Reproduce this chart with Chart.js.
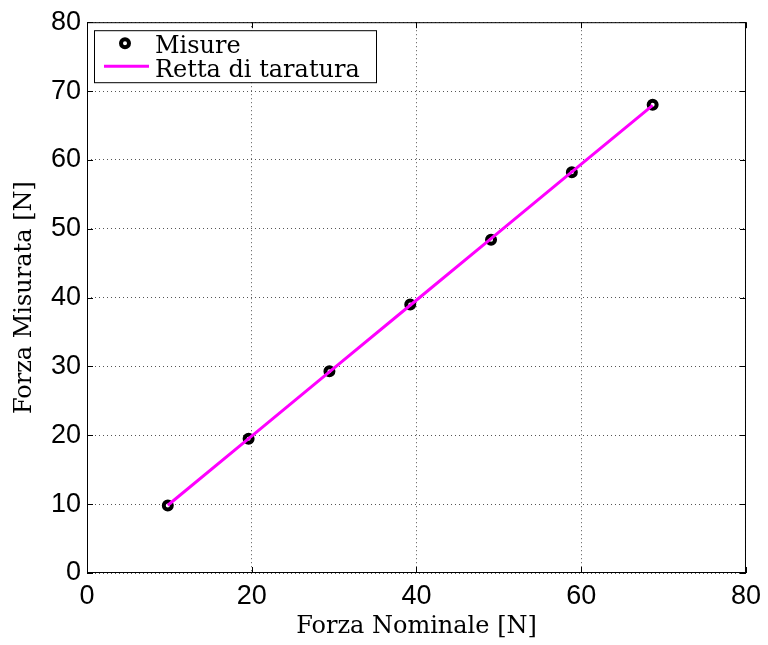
<!DOCTYPE html>
<html>
<head>
<meta charset="utf-8">
<script src="https://cdn.jsdelivr.net/npm/chart.js@4/dist/chart.umd.min.js"></script>
<style>
  html, body { margin: 0; padding: 0; background: #fff; }
  canvas { display: block; }
</style>
</head>
<body>
<canvas id="chart" width="768" height="645"></canvas>
<script>
// dati
const forzaNominale = [9.81, 19.62, 29.43, 39.24, 49.05, 58.86, 68.67];
const forzaMisurata = [9.8, 19.5, 29.3, 39.0, 48.4, 58.2, 68.0];
const rettaTaratura = [9.84, 19.52, 29.2, 38.89, 48.57, 58.25, 67.93];
const legendLabels = ['Misure', 'Retta di taratura'];
const xTitle = 'Forza Nominale [N]';
const yTitle = 'Forza Misurata [N]';

const serif = '"DejaVu Serif", serif';
const sans = '"Liberation Sans", Arial, sans-serif';

function toPoints(xs, ys) {
    return xs.map((x, i) => ({ x: x, y: ys[i] }));
}

// cornice e tacche interne stile MATLAB, legenda dentro il grafico
const matlabBox = {
    id: 'matlabBox',
    afterDraw(chart) {
        const ctx = chart.ctx;
        const a = chart.chartArea;
        const xs = chart.scales.x, ys = chart.scales.y;
        const tl = 6;
        ctx.save();
        ctx.strokeStyle = '#000';
        ctx.lineWidth = 1;
        ctx.strokeRect(a.left + 0.5, a.top + 0.5, a.right - a.left - 1, a.bottom - a.top - 1);
        ctx.beginPath();
        xs.ticks.forEach(t => {
            const px = Math.round(xs.getPixelForValue(t.value)) + 0.5;
            ctx.moveTo(px, a.bottom); ctx.lineTo(px, a.bottom - tl);
            ctx.moveTo(px, a.top); ctx.lineTo(px, a.top + tl);
        });
        ys.ticks.forEach(t => {
            const py = Math.round(ys.getPixelForValue(t.value)) + 0.5;
            ctx.moveTo(a.left, py); ctx.lineTo(a.left + tl, py);
            ctx.moveTo(a.right, py); ctx.lineTo(a.right - tl, py);
        });
        ctx.stroke();

        // legenda
        const bx = a.left + 7, by = a.top + 8, bw = 282, bh = 52;
        ctx.fillStyle = '#fff';
        ctx.fillRect(bx, by, bw, bh);
        ctx.strokeRect(bx + 0.5, by + 0.5, bw, bh);
        const ds = chart.data.datasets;
        ctx.beginPath();
        ctx.arc(bx + 31, by + 13, ds[0].pointRadius, 0, Math.PI * 2);
        ctx.lineWidth = ds[0].borderWidth;
        ctx.strokeStyle = ds[0].borderColor;
        ctx.stroke();
        ctx.beginPath();
        ctx.moveTo(bx + 10, by + 36);
        ctx.lineTo(bx + 55, by + 36);
        ctx.lineWidth = ds[1].borderWidth;
        ctx.strokeStyle = ds[1].borderColor;
        ctx.stroke();
        ctx.fillStyle = '#000';
        ctx.font = '24px ' + serif;
        ctx.textBaseline = 'alphabetic';
        ctx.fillText(ds[0].label, bx + 61, by + 23);
        ctx.fillText(ds[1].label, bx + 61, by + 47);
        ctx.restore();
    }
};

new Chart(document.getElementById('chart'), {
    type: 'scatter',
    data: {
        datasets: [{
            label: legendLabels[0],
            data: toPoints(forzaNominale, forzaMisurata),
            borderColor: '#000',
            backgroundColor: '#fff',
            borderWidth: 4,
            pointRadius: 4,
            order: 2
        }, {
            label: legendLabels[1],
            data: toPoints(forzaNominale, rettaTaratura),
            showLine: true,
            borderColor: '#ff00ff',
            borderWidth: 3,
            pointRadius: 0,
            order: 1
        }]
    },
    options: {
        responsive: false,
        animation: false,
        layout: { padding: { left: 0, right: 22, top: 20, bottom: 0 } },
        plugins: {
            legend: { display: false },
            tooltip: { enabled: false }
        },
        scales: {
            x: {
                type: 'linear',
                min: 0,
                max: 80,
                ticks: { stepSize: 20, color: '#000', font: { family: sans, size: 27 }, padding: 7 },
                grid: { color: '#555', drawTicks: false },
                border: { display: false, dash: [1, 3] },
                title: { display: true, text: xTitle, color: '#000', font: { family: serif, size: 24 }, padding: { top: 0, bottom: 4 } },
                afterFit(scale) { scale.height = 72; }
            },
            y: {
                type: 'linear',
                min: 0,
                max: 80,
                ticks: { stepSize: 10, color: '#000', font: { family: sans, size: 27 }, padding: 6 },
                grid: { color: '#555', drawTicks: false },
                border: { display: false, dash: [1, 3] },
                title: { display: true, text: yTitle, color: '#000', font: { family: serif, size: 24 }, padding: { top: 10, bottom: 0 } },
                afterFit(scale) { scale.width = 87; }
            }
        }
    },
    plugins: [matlabBox]
});
</script>
</body>
</html>
